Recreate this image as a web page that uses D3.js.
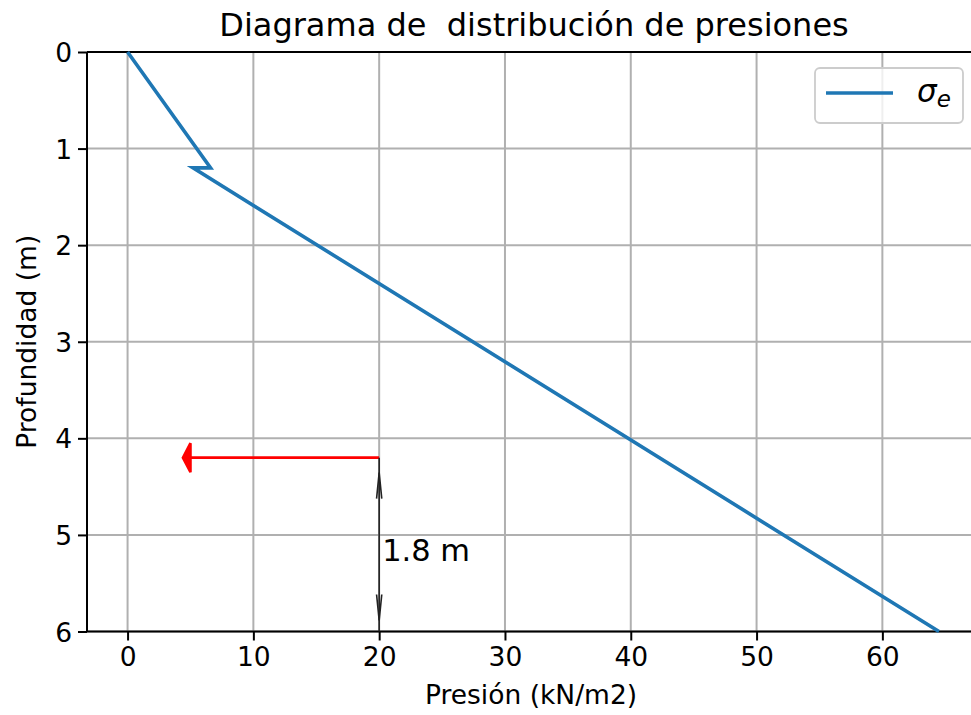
<!DOCTYPE html>
<html>
<head>
<meta charset="utf-8">
<script src="https://cdn.jsdelivr.net/npm/d3@7"></script>
<style>
  html, body { margin: 0; padding: 0; background: #fff; }
  svg { display: block; font-family: "DejaVu Sans", sans-serif; }
  text { white-space: pre; }
</style>
</head>
<body>
<svg id="chart" width="971" height="715"></svg>
<script>
// Effective pressure profile: pressure (kN/m2) against depth (m)
const pressure = [0, 6.6, 5.2, 64.5];
const depth = [0, 1.2, 1.2, 6];

const xTicks = [0, 10, 20, 30, 40, 50, 60];
const yTicks = [0, 1, 2, 3, 4, 5, 6];

// Red horizontal arrow at the water-table depth
const arrowDepth = [4.2];
const arrowFrom = [20];
const arrowTo = [5];
const arrowHeadLength = [0.6];
const arrowHeadWidth = [0.3];

// Dimension line from the arrow depth to the base
const dimX = [20];
const dimTop = [4.2];
const dimBottom = [6];
const dimLabel = ["1.8 m"];

const titleText = "Diagrama de  distribución de presiones";
const xLabel = "Presión (kN/m2)";
const yLabel = "Profundidad (m)";
const legendLabel = "σ";
const legendSub = "e";

const svg = d3.select("#chart");
const plotLeft = 87, plotTop = 52, plotBottom = 631.5;

const xMin = d3.min(pressure), xMax = d3.max(pressure);
const pad = (xMax - xMin) * 0.05;
const unit = 12.58;
const x = d3.scaleLinear()
  .domain([xMin - pad, xMax + pad])
  .range([plotLeft, plotLeft + (xMax - xMin + 2 * pad) * unit]);
const plotRight = x.range()[1];
const y = d3.scaleLinear().domain([0, 6]).range([plotTop, plotBottom]);

const gridColor = "#b0b0b0";

// grid
const grid = svg.append("g");
grid.selectAll("line.vx").data(xTicks).join("line")
  .attr("x1", d => x(d)).attr("x2", d => x(d))
  .attr("y1", plotTop).attr("y2", plotBottom)
  .attr("stroke", gridColor).attr("stroke-width", 2);
grid.selectAll("line.hy").data(yTicks).join("line")
  .attr("x1", plotLeft).attr("x2", plotRight)
  .attr("y1", d => y(d)).attr("y2", d => y(d))
  .attr("stroke", gridColor).attr("stroke-width", 2);

// axes
const fs = 26.5;
const xAxis = d3.axisBottom(x).tickValues(xTicks).tickSize(9).tickPadding(6).tickFormat(d3.format("d"));
const yAxis = d3.axisLeft(y).tickValues(yTicks).tickSize(9).tickPadding(6).tickFormat(d3.format("d"));

const gx = svg.append("g").attr("transform", `translate(0,${plotBottom})`).call(xAxis);
const gy = svg.append("g").attr("transform", `translate(${plotLeft},0)`).call(yAxis);
[gx, gy].forEach(g => {
  g.select(".domain").remove();
  g.selectAll(".tick line").attr("stroke", "#000").attr("stroke-width", 2);
  g.selectAll(".tick text").attr("fill", "#000").attr("font-size", fs)
    .attr("font-family", "DejaVu Sans");
});
gx.selectAll(".tick text").attr("dy", "0.74em");
gy.selectAll(".tick text").attr("dy", "0.36em");

// spines
const spine = (x1, y1, x2, y2) => svg.append("line")
  .attr("x1", x1).attr("y1", y1).attr("x2", x2).attr("y2", y2)
  .attr("stroke", "#000").attr("stroke-width", 2);
spine(plotLeft, plotTop, plotRight, plotTop);
spine(plotLeft, plotBottom, plotRight, plotBottom);
spine(plotLeft, plotTop, plotLeft, plotBottom);
spine(plotRight, plotTop, plotRight, plotBottom);

// pressure line
const pts = pressure.map((p, i) => [p, depth[i]]);
svg.append("path")
  .datum(pts)
  .attr("d", d3.line().x(d => x(d[0])).y(d => y(d[1])))
  .attr("fill", "none").attr("stroke", "#1f77b4").attr("stroke-width", 3.6)
  .attr("stroke-linejoin", "miter").attr("stroke-miterlimit", 10);

// red arrow (shaft + head, in data coordinates)
{
  const yd = arrowDepth[0], x0 = arrowFrom[0], x1 = arrowTo[0];
  const hl = arrowHeadLength[0], hw = arrowHeadWidth[0] / 2;
  const poly = [[x0, yd], [x1, yd], [x1, yd - hw], [x1 - hl, yd], [x1, yd + hw], [x1, yd]];
  svg.append("path")
    .attr("d", d3.line().x(d => x(d[0])).y(d => y(d[1]))(poly) + "Z")
    .attr("fill", "red").attr("stroke", "red").attr("stroke-width", 2.6)
    .attr("stroke-linejoin", "miter");
}

// dimension line with open heads at both ends
{
  const dx = x(dimX[0]);
  const yt = y(dimTop[0]), yb = y(dimBottom[0]);
  const g = svg.append("g").attr("stroke", "#222").attr("stroke-width", 1.6).attr("fill", "none");
  g.append("line").attr("x1", dx).attr("x2", dx).attr("y1", yt).attr("y2", yb);
  const tipT = yt + 15, tipB = yb - 11, hl = 26, hw = 2.6;
  g.append("path").attr("d", `M${dx - hw},${tipT + hl}L${dx},${tipT}L${dx + hw},${tipT + hl}`);
  g.append("path").attr("d", `M${dx - hw},${tipB - hl}L${dx},${tipB}L${dx + hw},${tipB - hl}`);
  svg.append("text")
    .attr("x", dx + 3).attr("y", (yt + yb) / 2 + 16)
    .attr("font-size", 30.5).attr("fill", "#000")
    .text(dimLabel[0]);
}

// title and axis labels
const plotMid = (plotLeft + 975) / 2;
svg.append("text").attr("x", plotMid + 3).attr("y", 36)
  .attr("text-anchor", "middle").attr("font-size", 32).attr("fill", "#000")
  .text(titleText);
svg.append("text").attr("x", plotMid).attr("y", 704)
  .attr("text-anchor", "middle").attr("font-size", fs).attr("fill", "#000")
  .text(xLabel);
svg.append("text")
  .attr("transform", `translate(36,${(plotTop + plotBottom) / 2}) rotate(-90)`)
  .attr("text-anchor", "middle").attr("font-size", fs).attr("fill", "#000")
  .text(yLabel);

// legend
{
  const g = svg.append("g");
  g.append("rect").attr("x", 815).attr("y", 68).attr("width", 148).attr("height", 55)
    .attr("rx", 5).attr("ry", 5)
    .attr("fill", "rgba(255,255,255,0.8)").attr("stroke", "#cccccc").attr("stroke-width", 1.8);
  g.append("line").attr("x1", 826).attr("x2", 893).attr("y1", 93).attr("y2", 93)
    .attr("stroke", "#1f77b4").attr("stroke-width", 3.6);
  const t = g.append("text").attr("x", 917).attr("y", 102)
    .attr("font-size", 31).attr("font-style", "italic").attr("fill", "#000");
  t.append("tspan").text(legendLabel);
  t.append("tspan").attr("font-size", 23).attr("dy", 5).text(legendSub);
}
</script>
</body>
</html>
